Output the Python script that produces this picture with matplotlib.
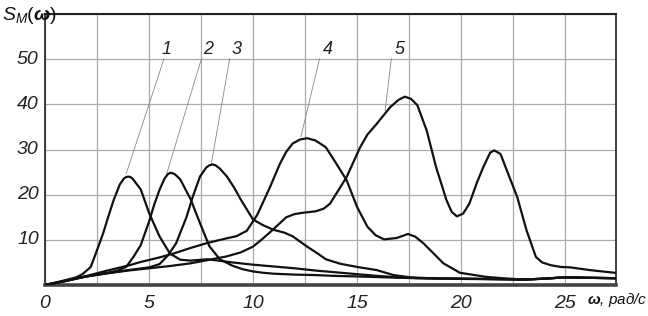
import matplotlib
matplotlib.use("Agg")
import matplotlib.pyplot as plt

plt.rcParams['font.family'] = ['Liberation Sans', 'DejaVu Sans']
plt.rcParams['mathtext.fontset'] = 'custom'
plt.rcParams['mathtext.rm'] = 'Liberation Sans'
plt.rcParams['mathtext.it'] = 'Liberation Sans:italic'
plt.rcParams['mathtext.bf'] = 'Liberation Sans:bold:italic'

# спектральные плотности S_M(w), кривые 1..5
w1 = [0, 0.5, 1.0, 1.5, 1.8, 2.2, 2.5, 2.8, 3.0, 3.3, 3.6, 3.8, 3.9, 4.0, 4.1, 4.2, 4.6, 5.0, 5.5, 6.0, 6.5,
      7.0, 7.8, 8.5, 9, 10, 11, 12, 13, 14, 15, 16, 17, 18, 20, 22, 23, 24, 25, 26, 27.5]
s1 = [0, 0.5, 1.1, 1.7, 2.4, 4.0, 7.7, 11.5, 14.5, 18.8, 22.3, 23.6, 23.9, 24.0, 23.9, 23.6, 21.2, 16.0, 10.8, 7.0, 5.6,
      5.4, 5.7, 5.3, 5.0, 4.5, 4.1, 3.7, 3.2, 2.8, 2.4, 2.0, 1.7, 1.5, 1.4, 1.3, 1.2, 1.4, 1.7, 1.6, 1.5]

w2 = [0, 0.5, 1, 1.5, 2, 2.5, 3, 3.5, 3.9, 4.25, 4.6, 5.0, 5.25, 5.5, 5.75, 5.9, 6.0, 6.1, 6.25, 6.5, 7.0, 7.45,
      7.9, 8.4, 9.0, 9.5, 10, 10.5, 11, 12, 13, 14, 15, 17, 19, 21, 23, 24, 25, 26, 27.5]
s2 = [0, 0.5, 1.0, 1.5, 1.9, 2.3, 2.7, 3.2, 4.0, 6.2, 8.8, 14.0, 17.8, 21.0, 23.6, 24.5, 24.8, 24.8, 24.5, 23.4, 19.0, 13.7,
      8.6, 5.7, 4.3, 3.5, 3.0, 2.7, 2.5, 2.3, 2.2, 2.0, 1.9, 1.6, 1.4, 1.3, 1.2, 1.4, 1.7, 1.6, 1.5]

w3 = [0, 1, 2, 3, 4, 5, 5.5, 5.9, 6.3, 6.8, 7.1, 7.45, 7.75, 7.9, 8.05, 8.2, 8.4, 8.75, 9.1, 9.4, 10.0, 10.5,
      11.0, 11.5, 11.9, 12.6, 13.1, 13.5, 14.2, 15.0, 15.95, 16.75, 17.55, 18.5, 20, 22, 23, 24, 25, 26, 27.5]
s3 = [0, 0.9, 1.9, 2.6, 3.3, 3.9, 4.6, 6.5, 9.2, 15.0, 19.5, 24.0, 26.0, 26.5, 26.7, 26.5, 25.8, 24.0, 21.5, 19.0, 14.5, 13.2,
      12.2, 11.6, 10.8, 8.5, 7.0, 5.7, 4.7, 4.0, 3.3, 2.2, 1.7, 1.5, 1.4, 1.3, 1.2, 1.4, 1.7, 1.6, 1.5]

w4 = [0, 1, 2, 2.5, 3, 4, 4.6, 5.5, 6.2, 7.0, 7.8, 8.7, 9.2, 9.7, 10.2, 10.5, 10.8, 11.3, 11.6, 11.9,
      12.25, 12.6, 13.0, 13.5, 14.0, 14.5, 15.0, 15.5, 15.9, 16.3, 16.9, 17.45, 17.8, 18.2, 18.7, 19.15,
      19.95, 21.2, 22, 23, 24, 25, 26, 27.5]
s4 = [0, 0.9, 2.0, 2.6, 3.2, 4.3, 5.1, 6.1, 7.0, 8.2, 9.3, 10.3, 10.8, 12.0, 15.5, 18.5, 21.5, 26.9, 29.5, 31.3,
      32.2, 32.5, 32.0, 30.5, 26.9, 23.2, 17.3, 12.9, 11.0, 10.1, 10.4, 11.3, 10.7, 9.2, 6.9, 4.8,
      2.7, 1.8, 1.5, 1.2, 1.4, 1.7, 1.6, 1.5]

w5 = [0, 1, 2, 3, 4, 5, 6, 7, 7.8, 8.7, 9.4, 10, 10.4, 10.8, 11.2, 11.6, 12.0, 12.4, 13.0, 13.4, 13.7,
      14.0, 14.5, 15.15, 15.5, 15.95, 16.6, 17.0, 17.3, 17.6, 17.9, 18.35, 18.8, 19.3, 19.55, 19.8, 20.1,
      20.4, 20.75, 21.07, 21.4, 21.6, 21.9, 22.2, 22.7, 23.15, 23.6, 23.9, 24.3, 24.8, 25.25, 26.2, 27.4]
s5 = [0, 0.9, 1.9, 2.6, 3.2, 3.7, 4.2, 4.8, 5.5, 6.3, 7.2, 8.5, 10.0, 11.6, 13.3, 15.0, 15.7, 16.0, 16.3, 16.9, 18.0,
      20.2, 23.9, 30.5, 33.3, 35.7, 39.4, 41.0, 41.7, 41.2, 39.8, 34.2, 26.1, 18.8, 16.2, 15.2, 15.8,
      18.0, 22.5, 26.1, 29.3, 29.8, 29.0, 25.4, 19.5, 12.1, 6.2, 5.0, 4.4, 4.0, 3.9, 3.3, 2.7]

curves = [(w1, s1), (w2, s2), (w3, s3), (w4, s4), (w5, s5)]

# номера кривых и выноски: позиция номера, начало и конец выноски
labels = ['1', '2', '3', '4', '5']
label_xy = [(5.82, 52.2), (7.86, 52.2), (9.23, 52.2), (13.6, 52.2), (17.07, 52.2)]
leader_from = [(5.72, 50.1), (7.52, 50.1), (8.88, 50.1), (13.2, 50.1), (16.65, 50.1)]
leader_to = [(3.9, 24.6), (5.85, 24.6), (8.0, 27.0), (12.3, 32.8), (16.35, 38.6)]

xticks = [0, 5, 10, 15, 20, 25]
yticks = [10, 20, 30, 40, 50]

fig = plt.figure(figsize=(6.48, 3.16), dpi=100)
ax = fig.add_axes([45 / 648, 31 / 316, 571 / 648, 271 / 316])

for w, s in curves:
    ax.plot(w, s, color='#111111', lw=1.6, solid_joinstyle='round', zorder=3)

for lab, (tx, ty), (x0, y0), (x1, y1) in zip(labels, label_xy, leader_from, leader_to):
    ax.plot([x0, x1], [y0, y1], color='#888888', lw=0.6, zorder=2)
    ax.text(tx, ty, lab, ha='center', va='center', fontsize=13, style='italic', color='#222222')

ax.set_xlim(0, 27.45)
ax.set_ylim(0, 60)
ax.set_xticks([i * 2.5 for i in range(11)])
ax.set_yticks([10, 20, 30, 40, 50, 60])
ax.set_xticklabels([])
ax.set_yticklabels([])
ax.tick_params(length=0)
ax.grid(True, color='#aaaaaa', lw=0.9)

for x in xticks:
    ax.text(x, -2.2, str(x), ha='center', va='top', fontsize=14, style='italic', color='#222222')
for y in yticks:
    ax.text(-0.3, y, str(y), ha='right', va='center', fontsize=14, style='italic', color='#222222')

for side in ['left', 'top', 'right']:
    ax.spines[side].set_color('#222222')
    ax.spines[side].set_linewidth(1.2)
ax.spines['top'].set_linewidth(1.5)
ax.spines['bottom'].set_color('#444444')
ax.spines['bottom'].set_linewidth(2.6)

fig.text(2 / 648, 1 - 16 / 316, r'$S_M(\mathbf{\omega})$', fontsize=14, style='italic',
         ha='left', va='center', color='#111111')
fig.text(587 / 648, 1 - 300 / 316, r'$\mathbf{\omega}$, рад/с', fontsize=11, style='italic',
         ha='left', va='center', color='#111111')

fig.savefig('out.png', dpi=100)
